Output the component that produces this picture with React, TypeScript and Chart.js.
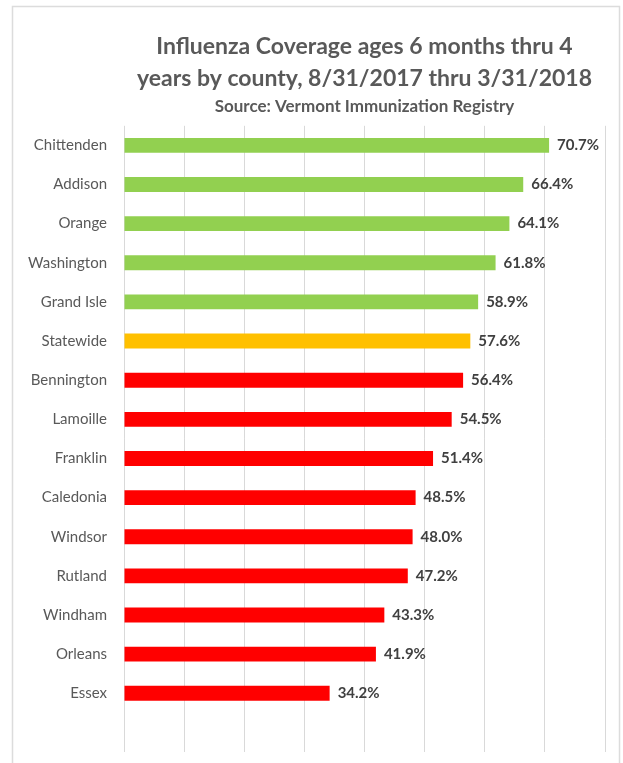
import { useEffect, useRef } from "react";
import { Chart, registerables } from "chart.js";

Chart.register(...registerables);

const titleLines = ["Influenza Coverage ages 6 months thru 4", "years by county, 8/31/2017 thru 3/31/2018"];
const subtitleText = "Source: Vermont Immunization Registry";

const counties = [
  "Chittenden", "Addison", "Orange", "Washington", "Grand Isle", "Statewide",
  "Bennington", "Lamoille", "Franklin", "Caledonia", "Windsor", "Rutland",
  "Windham", "Orleans", "Essex", "",
];
const coverage: (number | null)[] = [
  70.7, 66.4, 64.1, 61.8, 58.9, 57.6, 56.4, 54.5, 51.4, 48.5, 48.0, 47.2, 43.3, 41.9, 34.2, null,
];
const groups = [
  "above", "above", "above", "above", "above", "state",
  "below", "below", "below", "below", "below", "below", "below", "below", "below", "below",
];
const groupColors: Record<string, string> = { above: "#92D050", state: "#FFC000", below: "#FF0000" };
const xMin = 0;
const xMax = 80;
const xStep = 10;

const FONT = "Lato, 'Open Sans', sans-serif";

const framePlugin = {
  id: "frame",
  beforeDraw(chart: any) {
    const ctx = chart.ctx;
    ctx.save();
    ctx.fillStyle = "#ffffff";
    ctx.fillRect(0, 0, chart.width, chart.height);
    ctx.strokeStyle = "#dcdcdc";
    ctx.lineWidth = 1.5;
    ctx.strokeRect(12.5, 6.5, 607, chart.height + 20);
    ctx.restore();
  },
};

const valueLabelPlugin = {
  id: "valueLabels",
  afterDatasetsDraw(chart: any) {
    const ctx = chart.ctx;
    const meta = chart.getDatasetMeta(0);
    const data = chart.data.datasets[0].data;
    ctx.save();
    ctx.font = `bold 15px ${FONT}`;
    ctx.fillStyle = "#404040";
    ctx.textAlign = "left";
    ctx.textBaseline = "middle";
    meta.data.forEach((bar: any, i: number) => {
      const v = data[i];
      if (v === null || v === undefined) return;
      ctx.fillText(`${Number(v).toFixed(1)}%`, bar.x + 8, bar.y);
    });
    ctx.restore();
  },
};

export default function App() {
  const ref = useRef<HTMLCanvasElement>(null);
  useEffect(() => {
    document.body.style.margin = "0";
    const canvas = ref.current;
    if (!canvas) return;
    const chart = new Chart(canvas, {
      type: "bar",
      data: {
        labels: counties,
        datasets: [
          {
            data: coverage,
            backgroundColor: groups.map((g) => groupColors[g]),
            categoryPercentage: 0.4,
            barPercentage: 0.95,
          },
        ],
      },
      options: {
        indexAxis: "y",
        animation: false,
        responsive: false,
        layout: { padding: { left: 0, right: 18, top: 0, bottom: 11 } },
        plugins: {
          legend: { display: false },
          tooltip: { enabled: false },
          title: {
            display: true,
            text: titleLines,
            fullSize: false,
            color: "#595959",
            font: { family: FONT, size: 23, weight: "bold", lineHeight: 1.4 },
            padding: { top: 30, bottom: 0 },
          },
          subtitle: {
            display: true,
            text: subtitleText,
            fullSize: false,
            color: "#595959",
            font: { family: FONT, size: 17, weight: "bold", lineHeight: 1.2 },
            padding: { top: 2, bottom: 9 },
          },
        },
        scales: {
          x: {
            min: xMin,
            max: xMax,
            ticks: { display: false, stepSize: xStep },
            grid: { color: "#d9d9d9", drawTicks: false },
            border: { display: false },
            afterFit: (s: any) => { s.height = 0; },
          },
          y: {
            ticks: { color: "#595959", font: { family: FONT, size: 15 }, padding: 0 },
            grid: { display: false, drawTicks: true, tickLength: 17 },
            border: { display: false },
            afterFit: (s: any) => { s.width = 124; },
          },
        },
      },
      plugins: [framePlugin, valueLabelPlugin],
    });
    return () => chart.destroy();
  }, []);
  return <canvas ref={ref} width={623} height={763} style={{ display: "block" }} />;
}
